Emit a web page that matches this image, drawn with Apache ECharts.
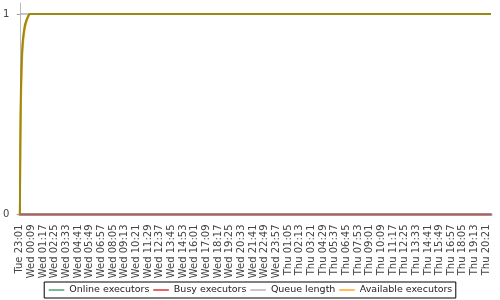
<!DOCTYPE html>
<html>
<head>
<meta charset="utf-8">
<script src="https://cdn.jsdelivr.net/npm/echarts@6/dist/echarts.min.js"></script>
<style>html,body{margin:0;padding:0;background:#fff}#c{width:500px;height:300px}</style>
</head>
<body>
<div id="c"></div>
<script>
// x values are minutes since Tue 23:01
var tickLabels = ["Tue 23:01","Wed 00:09","Wed 01:17","Wed 02:25","Wed 03:33","Wed 04:41","Wed 05:49","Wed 06:57","Wed 08:05","Wed 09:13","Wed 10:21","Wed 11:29","Wed 12:37","Wed 13:45","Wed 14:53","Wed 16:01","Wed 17:09","Wed 18:17","Wed 19:25","Wed 20:33","Wed 21:41","Wed 22:49","Wed 23:57","Thu 01:05","Thu 02:13","Thu 03:21","Thu 04:29","Thu 05:37","Thu 06:45","Thu 07:53","Thu 09:01","Thu 10:09","Thu 11:17","Thu 12:25","Thu 13:33","Thu 14:41","Thu 15:49","Thu 16:57","Thu 18:05","Thu 19:13","Thu 20:21"];
var tickStep = 68;
var endMinute = 2748;
var seriesNames = ["Online executors","Busy executors","Queue length","Available executors"];

var onlineTimes  = [0, 2, 4, 6, 9, 12, 16, 21, 29, 38, 48, 56, 2748];
var onlineValues = [0, 0.3, 0.5, 0.62, 0.73, 0.8, 0.86, 0.9, 0.945, 0.97, 0.99, 1, 1];
var availableTimes  = [0, 2, 4, 6, 9, 12, 16, 21, 29, 38, 48, 56, 2748];
var availableValues = [0, 0.22, 0.42, 0.55, 0.67, 0.76, 0.83, 0.88, 0.93, 0.96, 0.985, 1, 1];
var busyTimes  = [0, 2748];
var busyValues = [0, 0];
var queueTimes  = [0, 2748];
var queueValues = [1, 1];

function pairs(t, v){ return t.map(function(x,i){ return [x, v[i]]; }); }

var chart = echarts.init(document.getElementById('c'), null, {renderer:'canvas'});
var font = 'DejaVu Sans';
function legendItem(name, color){
  return {name: name, itemStyle: {color: color, opacity: 0}, lineStyle: {color: color, width: 2, opacity: 1}};
}
chart.setOption({
  animation: false,
  backgroundColor: '#fff',
  grid: {left: 18.3, right: 9, top: 3, bottom: 85.5, containLabel: false},
  xAxis: {
    type: 'value', min: 0, max: endMinute, interval: tickStep,
    offset: 6,
    axisLine: {show: true, lineStyle: {color: '#9a9a9a', width: 3}},
    axisTick: {show: false},
    splitLine: {show: false},
    axisLabel: {
      rotate: 90, margin: 4, fontSize: 10, fontFamily: font, color: '#444',
      showMinLabel: true, showMaxLabel: true,
      formatter: function(v){ var i = v / tickStep; return (Number.isInteger(i) && tickLabels[i]) ? tickLabels[i] : ''; }
    }
  },
  yAxis: {
    type: 'value', min: 0, max: 1.055, interval: 1,
    offset: 4,
    axisLine: {show: true, lineStyle: {color: '#bbbbbb', width: 1}},
    axisTick: {show: true, length: 3, customValues: [0, 1], lineStyle: {color: '#999'}},
    splitLine: {show: false},
    axisLabel: {
      margin: 6.5, fontSize: 10, fontFamily: font, color: '#444', customValues: [0, 1],
      formatter: function(v){ return (v === 0 || v === 1) ? String(v) : ''; }
    }
  },
  legend: {
    bottom: 2, left: 'center',
    orient: 'horizontal',
    borderColor: '#000', borderWidth: 1, padding: [3, 3.5],
    itemWidth: 15.6, itemHeight: 12, itemGap: 2.8,
    textStyle: {fontSize: 9.5, fontFamily: font, color: '#222'},
    data: [
      legendItem(seriesNames[0], '#7ab896'),
      legendItem(seriesNames[1], '#e06a6a'),
      legendItem(seriesNames[2], '#c8c8c8'),
      legendItem(seriesNames[3], '#ffbe5a')
    ]
  },
  series: [
    {name: seriesNames[0], type: 'line', symbol: 'none', z: 5, data: pairs(onlineTimes, onlineValues),
     itemStyle: {color: '#7ab896'}, lineStyle: {color: '#9a8a14', width: 2}},
    {name: seriesNames[1], type: 'line', symbol: 'none', z: 4, data: pairs(busyTimes, busyValues),
     itemStyle: {color: '#e06a6a'}, lineStyle: {color: '#c85454', width: 1.5}},
    {name: seriesNames[2], type: 'line', symbol: 'none', z: 2, data: pairs(queueTimes, queueValues),
     itemStyle: {color: '#c8c8c8'}, lineStyle: {color: '#b0b0b0', width: 1.5}},
    {name: seriesNames[3], type: 'line', symbol: 'none', z: 3, data: pairs(availableTimes, availableValues),
     itemStyle: {color: '#ffbe5a'}, lineStyle: {color: '#f5a010', width: 2}}
  ]
});
</script>
</body>
</html>
